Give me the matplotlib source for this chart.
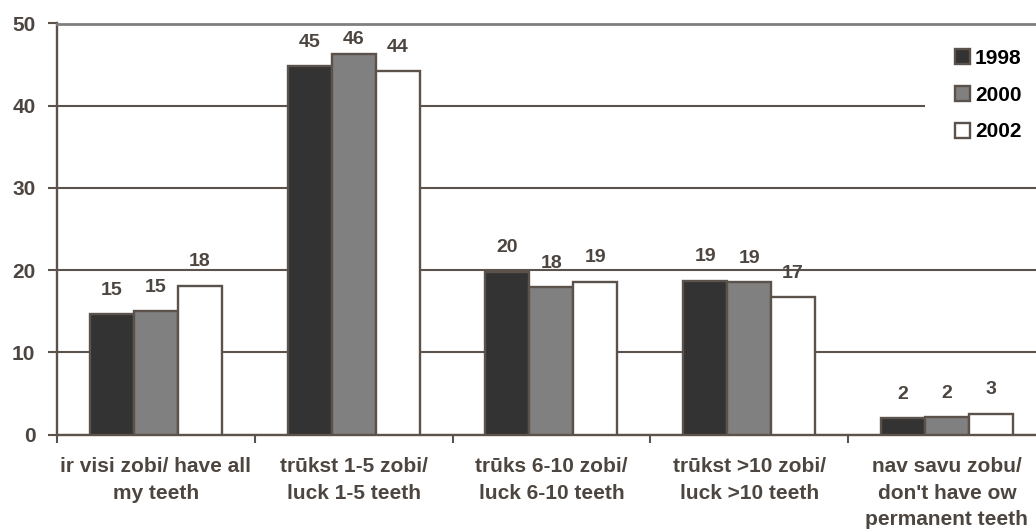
import matplotlib
matplotlib.use("Agg")
import matplotlib.pyplot as plt
from matplotlib.patches import Rectangle
import numpy as np

# Survey data: share of respondents (%) by number of missing teeth
categories = [
    "ir visi zobi/ have all\nmy teeth",
    "trūkst 1-5 zobi/\nluck 1-5 teeth",
    "trūks 6-10 zobi/\nluck 6-10 teeth",
    "trūkst >10 zobi/\nluck >10 teeth",
    "nav savu zobu/\ndon't have ow\npermanent teeth",
]
years = ["1998", "2000", "2002"]
values_1998 = [14.6, 44.8, 19.8, 18.7, 2.0]
values_2000 = [15.0, 46.3, 17.9, 18.55, 2.1]
values_2002 = [18.1, 44.2, 18.6, 16.7, 2.55]
y_ticks = [0, 10, 20, 30, 40, 50]

series = [values_1998, values_2000, values_2002]
fills = ["#333333", "#808080", "#ffffff"]
edge = "#5a524b"
text_col = "#4d4640"

plt.rcParams["font.family"] = ["Liberation Sans", "DejaVu Sans"]
plt.rcParams["font.weight"] = "bold"

W, H = 1036, 529
fig = plt.figure(figsize=(W / 100, H / 100), dpi=100)
ax = fig.add_axes([57 / W, 94.5 / H, 988.75 / W, 411 / H])

n = len(categories)
centers = np.arange(n) + 0.5
bw = 0.2225
offsets = [-bw, 0.0, bw]

for vals, fc, off, yr in zip(series, fills, offsets, years):
    ax.bar(centers + off, vals, width=bw, color=fc, edgecolor=edge,
           linewidth=1.7, label=yr, zorder=3)
    for x, v in zip(centers + off, vals):
        ax.text(x, min(v + 2.9, 48.0), f"{v:.0f}", ha="center", va="center",
                fontsize=14, fontweight="bold", color=text_col, zorder=4)

ax.set_xlim(0, n)
ax.set_ylim(0, 50)

# y axis
ax.set_yticks(y_ticks)
ax.set_yticklabels([str(t) for t in y_ticks], fontsize=15, fontweight="bold",
                   color=text_col)
ax.tick_params(axis="y", direction="out", length=6.5, width=1.5, color=edge,
               pad=9)
ax.yaxis.grid(True, color=edge, linewidth=1.5)
ax.set_axisbelow(True)

# x axis: ticks at category boundaries, labels at centres
ax.set_xticks(np.arange(n + 1))
ax.set_xticklabels([])
ax.tick_params(axis="x", which="major", direction="out", length=6, width=1.5,
               color=edge)
ax.set_xticks(centers, minor=True)
ax.set_xticklabels(categories, minor=True, fontsize=15, fontweight="bold",
                   color=text_col, linespacing=1.52)
ax.tick_params(axis="x", which="minor", length=0, pad=16)

for side in ("left", "bottom"):
    ax.spines[side].set_color(edge)
    ax.spines[side].set_linewidth(1.7)
ax.spines["top"].set_color("#7f7f7f")
ax.spines["top"].set_linewidth(2.0)
ax.spines["right"].set_visible(False)

# white backing behind the legend, hiding the gridline there
ax.add_patch(Rectangle((925 / W, (H - 175) / H), (W - 925) / W + 0.01,
                       140 / H, transform=fig.transFigure, facecolor="white",
                       edgecolor="none", zorder=2, clip_on=False))

leg = ax.legend(loc="upper left", bbox_to_anchor=(955 / W, (H - 49) / H),
                bbox_transform=fig.transFigure, frameon=False,
                fontsize=15, handlelength=0.72, handleheight=0.72,
                handletextpad=0.24, labelspacing=0.85, borderpad=0,
                borderaxespad=0)
for t in leg.get_texts():
    t.set_fontweight("bold")
    t.set_color("black")
leg.set_zorder(5)

fig.savefig("out.png", dpi=100)
